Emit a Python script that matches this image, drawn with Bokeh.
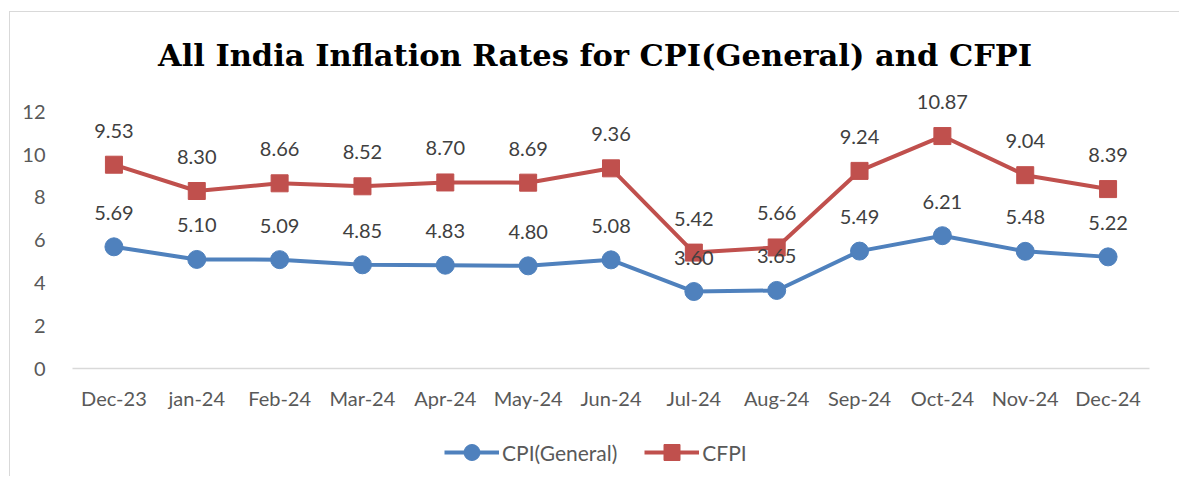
from bokeh.plotting import figure
from bokeh.models import Range1d, ColumnDataSource, LabelSet, Legend, LegendItem, Div
from bokeh.layouts import column
from bokeh.core.properties import value
from bokeh.embed import file_html
from bokeh.resources import INLINE

title_text = "All India Inflation Rates for CPI(General) and CFPI"
months = ["Dec-23", "jan-24", "Feb-24", "Mar-24", "Apr-24", "May-24", "Jun-24",
          "Jul-24", "Aug-24", "Sep-24", "Oct-24", "Nov-24", "Dec-24"]
cpi = [5.69, 5.10, 5.09, 4.85, 4.83, 4.80, 5.08, 3.60, 3.65, 5.49, 6.21, 5.48, 5.22]
cfpi = [9.53, 8.30, 8.66, 8.52, 8.70, 8.69, 9.36, 5.42, 5.66, 9.24, 10.87, 9.04, 8.39]
y_ticks = [0, 2, 4, 6, 8, 10, 12]
series_names = ["CPI(General)", "CFPI"]

BLUE = "#4f81bd"
RED = "#c0504d"
SANS = "Lato"

title = Div(text=f'<div style="padding-top:24px; font-family:\'DejaVu Serif\'; font-weight:bold; '
                 f'font-size:30.5px; line-height:38px; color:#000; text-align:center; width:1170px;">'
                 f'{title_text}</div>',
            width=1170, height=78, margin=0)

p = figure(frame_width=1077, frame_height=278, x_range=months, y_range=Range1d(0, 13),
           output_backend="svg", toolbar_location=None,
           min_border_left=62, min_border_right=31, min_border_top=0, min_border_bottom=60,
           margin=0)
p.x_range.range_padding = 0
p.outline_line_color = None
p.grid.visible = False

p.yaxis.ticker = y_ticks
p.yaxis.axis_line_color = None
p.yaxis.major_tick_line_color = None
p.yaxis.minor_tick_line_color = None
p.yaxis.major_label_text_font = SANS
p.yaxis.major_label_text_font_size = "20px"
p.yaxis.major_label_text_color = "#595959"
p.yaxis.major_label_standoff = 21

p.xaxis.axis_line_color = "#d9d9d9"
p.xaxis.axis_line_width = 1.5
p.xaxis.major_tick_line_color = None
p.xaxis.minor_tick_line_color = None
p.xaxis.major_label_text_font = SANS
p.xaxis.major_label_text_font_size = "20px"
p.xaxis.major_label_text_color = "#595959"
p.xaxis.major_label_standoff = 11

src = ColumnDataSource(dict(m=months, cpi=cpi, cfpi=cfpi,
                            cpi_t=[f"{v:.2f}" for v in cpi],
                            cfpi_t=[f"{v:.2f}" for v in cfpi]))

p.line("m", "cpi", source=src, line_color=BLUE, line_width=4)
p.scatter("m", "cpi", source=src, marker="circle", size=18, fill_color=BLUE, line_color=BLUE)
p.line("m", "cfpi", source=src, line_color=RED, line_width=4)
p.scatter("m", "cfpi", source=src, marker="square", size=17, fill_color=RED, line_color=RED)

for col, tcol in (("cpi", "cpi_t"), ("cfpi", "cfpi_t")):
    p.add_layout(LabelSet(x="m", y=col, text=tcol, source=src, y_offset=27,
                          text_align="center", text_baseline="alphabetic",
                          text_font=value(SANS), text_font_size=value("20px"),
                          text_color=value("#404040")))

# legend strip below the chart (series drawn outside its visible range; only the legend shows)
lg = figure(width=1170, height=48, x_range=months, y_range=Range1d(-3, -2),
            output_backend="svg", toolbar_location=None,
            min_border=0, margin=0)
lg.outline_line_color = None
lg.grid.visible = False
lg.axis.visible = False
ll1 = lg.line("m", "cpi", source=src, line_color=BLUE, line_width=4)
ls1 = lg.scatter("m", "cpi", source=src, marker="circle", size=16, fill_color=BLUE, line_color=BLUE)
ll2 = lg.line("m", "cfpi", source=src, line_color=RED, line_width=4)
ls2 = lg.scatter("m", "cfpi", source=src, marker="square", size=16, fill_color=RED, line_color=RED)
legend = Legend(items=[LegendItem(label=series_names[0], renderers=[ll1, ls1]),
                       LegendItem(label=series_names[1], renderers=[ll2, ls2])],
                orientation="horizontal", location=(372, 4),
                label_text_font=SANS, label_text_font_size="21px", label_text_color="#595959",
                glyph_width=55, glyph_height=40, spacing=27, label_standoff=3,
                border_line_color=None, background_fill_alpha=0, margin=0, padding=0)
lg.add_layout(legend, "center")

layout = column(title, p, lg, spacing=0, margin=(11, 0, 0, 9),
                styles={"border-left": "1px solid #d9d9d9", "border-top": "1px solid #d9d9d9"})

open("out.html", "w").write(file_html(layout, INLINE))
